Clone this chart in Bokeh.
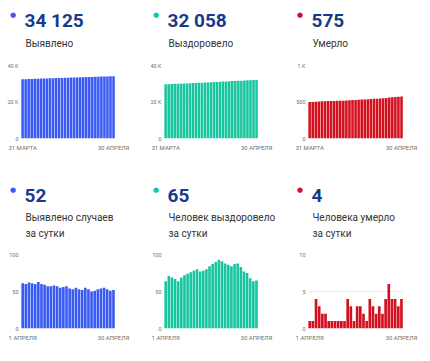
from bokeh.plotting import figure
from bokeh.models import Range1d, FixedTicker, Label, ColumnDataSource
from bokeh.layouts import row, column
from bokeh.embed import file_html
from bokeh.resources import INLINE

# ---------------- data ----------------
cum_dates = ["31 МАРТА", "1 АПРЕЛЯ", "2 АПРЕЛЯ", "3 АПРЕЛЯ", "4 АПРЕЛЯ", "5 АПРЕЛЯ",
             "6 АПРЕЛЯ", "7 АПРЕЛЯ", "8 АПРЕЛЯ", "9 АПРЕЛЯ", "10 АПРЕЛЯ", "11 АПРЕЛЯ",
             "12 АПРЕЛЯ", "13 АПРЕЛЯ", "14 АПРЕЛЯ", "15 АПРЕЛЯ", "16 АПРЕЛЯ", "17 АПРЕЛЯ",
             "18 АПРЕЛЯ", "19 АПРЕЛЯ", "20 АПРЕЛЯ", "21 АПРЕЛЯ", "22 АПРЕЛЯ", "23 АПРЕЛЯ",
             "24 АПРЕЛЯ", "25 АПРЕЛЯ", "26 АПРЕЛЯ", "27 АПРЕЛЯ", "28 АПРЕЛЯ", "29 АПРЕЛЯ",
             "30 АПРЕЛЯ"]
day_dates = cum_dates[1:]

cum_detected = [32448, 32509, 32569, 32631, 32692, 32752, 32815, 32875, 32934, 32991,
                33048, 33106, 33163, 33218, 33274, 33331, 33385, 33438, 33493, 33546,
                33598, 33653, 33706, 33756, 33807, 33860, 33914, 33969, 34022, 34073, 34125]
cum_recovered = [29729, 29793, 29864, 29933, 30000, 30064, 30133, 30205, 30279, 30355,
                 30433, 30513, 30590, 30668, 30748, 30832, 30919, 31009, 31102, 31193,
                 31281, 31367, 31451, 31538, 31626, 31709, 31786, 31861, 31929, 31993, 32058]
cum_deaths = [500, 501, 502, 506, 509, 511, 513, 514, 515, 516, 517, 518, 519, 523, 526, 527,
              530, 533, 535, 536, 540, 543, 545, 548, 550, 554, 560, 564, 568, 571, 575]

day_detected = [61, 60, 62, 61, 60, 63, 60, 59, 57, 57, 58, 57, 55, 56, 57, 54, 53, 55, 53, 52,
                55, 53, 50, 51, 53, 54, 55, 53, 51, 52]
day_recovered = [64, 71, 69, 67, 64, 69, 72, 74, 76, 78, 80, 77, 78, 80, 84, 87, 90, 93, 91, 88,
                 86, 84, 87, 88, 83, 77, 75, 68, 64, 65]
day_deaths = [1, 1, 4, 3, 2, 2, 1, 1, 1, 1, 1, 1, 4, 3, 1, 3, 3, 2, 1, 4, 3, 2, 3, 2, 4, 6, 4, 4, 3, 4]

top_numbers = ["34 125", "32 058", "575"]
bottom_numbers = ["52", "65", "4"]
top_titles = [["Выявлено"], ["Выздоровело"], ["Умерло"]]
bottom_titles = [["Выявлено случаев", "за сутки"],
                 ["Человек выздоровело", "за сутки"],
                 ["Человека умерло", "за сутки"]]
top_ticks = [[0, 20000, 40000], [0, 20000, 40000], [0, 500, 1000]]
top_tick_labels = [["0", "20 K", "40 K"], ["0", "20 K", "40 K"], ["0", "500", "1 K"]]
bottom_ticks = [[0, 50, 100], [0, 50, 100], [0, 5, 10]]
bottom_tick_labels = [["0", "50", "100"], ["0", "50", "100"], ["0", "5", "10"]]

colors = ["#3a5af4", "#17c59f", "#d3101e"]
NAVY = "#173a8a"

# ---------------- layout geometry ----------------
CW = [145, 145, 140]   # figure widths per column
ML = [20, 18, 17]
X0 = [0, 145, 290]     # column offsets
TOTAL_W = 430
FW = [95, 95, 96]
HH = [60, 76]          # header heights
FH = [73, 74]          # chart frame heights
MT = [5, 5]
MB = [35, 17]
DOT_Y = [46, 60]
NUM_Y = [40.5, 54]
LINE_Y = [[17.5], [32, 16]]


def header(numbers, titles, r):
    h = figure(width=TOTAL_W, height=HH[r],
               min_border_left=0, min_border_right=0, min_border_top=0, min_border_bottom=0,
               x_range=Range1d(0, TOTAL_W), y_range=Range1d(0, HH[r]),
               x_axis_type=None, y_axis_type=None,
               output_backend="svg", toolbar_location=None, tools="")
    h.outline_line_color = None
    for c in range(3):
        fl = X0[c] + ML[c]
        h.add_layout(Label(x=fl - 7.5, y=DOT_Y[r], text="●",
                           text_color=colors[c], text_font="DejaVu Sans", text_font_size="7px",
                           text_align="center", text_baseline="middle"))
        h.add_layout(Label(x=fl + 4, y=NUM_Y[r], text=numbers[c],
                           text_color=NAVY, text_font="Roboto", text_font_style="bold",
                           text_font_size="19px", text_align="left", text_baseline="alphabetic"))
        for txt, ly in zip(titles[c], LINE_Y[r]):
            h.add_layout(Label(x=fl + 5, y=ly, text=txt,
                               text_color="#333333", text_font="Roboto", text_font_size="10px",
                               text_align="left", text_baseline="alphabetic"))
    return h


def chart(values, dates, ticks, tick_labels, color, c, r):
    n = len(values)
    src = ColumnDataSource(dict(i=list(range(n)), v=values))
    p = figure(width=CW[c], height=MT[r] + FH[r] + MB[r],
               min_border_left=ML[c], min_border_right=CW[c] - ML[c] - FW[c],
               min_border_top=MT[r], min_border_bottom=MB[r],
               x_range=Range1d(-0.7, n - 0.35), y_range=Range1d(0, ticks[-1]),
               output_backend="svg", toolbar_location=None, tools="")
    p.vbar(x="i", top="v", width=0.84, source=src, fill_color=color, line_color=None)

    p.outline_line_color = None
    p.xgrid.grid_line_color = None
    p.ygrid.grid_line_color = "#ececec"
    p.ygrid.grid_line_width = 1

    p.xaxis.ticker = FixedTicker(ticks=[0, n - 1])
    p.xaxis.major_label_overrides = {0: dates[0], n - 1: dates[-1]}
    p.yaxis.ticker = FixedTicker(ticks=ticks)
    p.yaxis.major_label_overrides = {t: l for t, l in zip(ticks, tick_labels)}
    for ax in (p.xaxis, p.yaxis):
        ax.axis_line_color = None
        ax.major_tick_line_color = None
        ax.minor_tick_line_color = None
        ax.major_tick_out = 0
        ax.major_tick_in = 0
        ax.minor_tick_out = 0
        ax.minor_tick_in = 0
        ax.major_label_text_font = "Roboto"
        ax.major_label_text_color = "#6f6f6f"
    p.xaxis.major_label_text_font_size = "6px"
    p.yaxis.major_label_text_font_size = "5.5px"
    p.xaxis.major_label_standoff = 5
    p.yaxis.major_label_standoff = 2
    return p


top_vals = [cum_detected, cum_recovered, cum_deaths]
bot_vals = [day_detected, day_recovered, day_deaths]

top_charts = row([chart(top_vals[c], cum_dates, top_ticks[c], top_tick_labels[c], colors[c], c, 0)
                  for c in range(3)])
bot_charts = row([chart(bot_vals[c], day_dates, bottom_ticks[c], bottom_tick_labels[c], colors[c], c, 1)
                  for c in range(3)])
layout = column(header(top_numbers, top_titles, 0), top_charts,
                header(bottom_numbers, bottom_titles, 1), bot_charts)

open("out.html", "w").write(file_html(layout, INLINE))
